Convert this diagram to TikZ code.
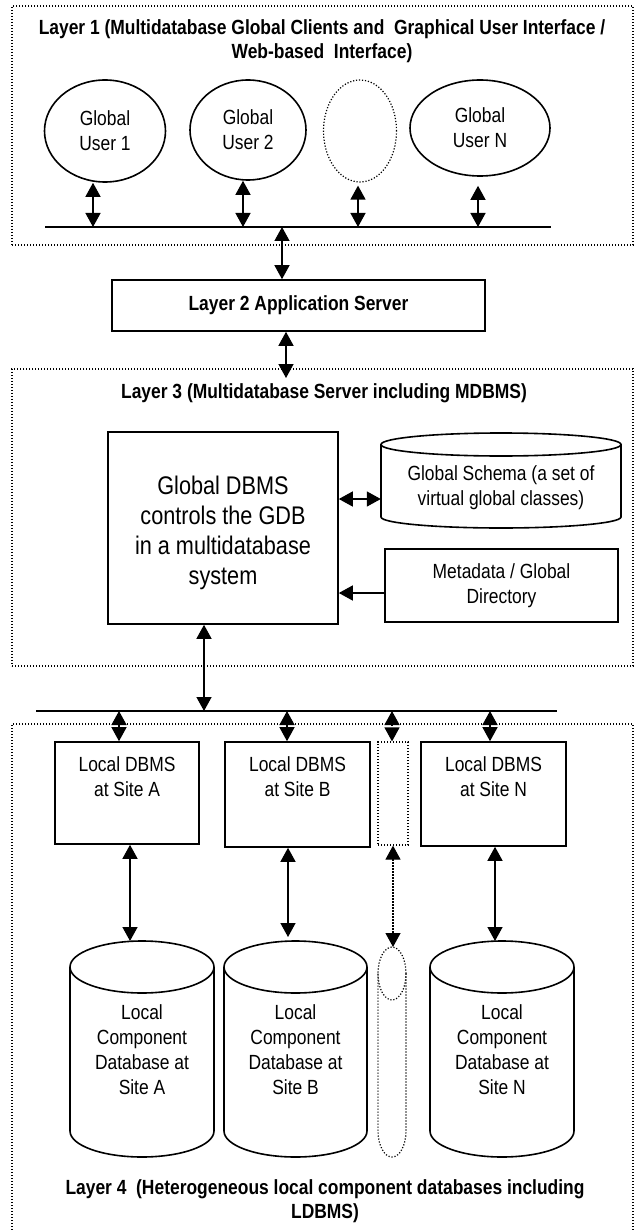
\documentclass[tikz,border=0pt]{standalone}
\usepackage{fontspec}
\setmainfont[FakeStretch=0.85]{Liberation Sans}
\usetikzlibrary{arrows.meta,shapes.geometric,calc}
\begin{document}
\begin{tikzpicture}[x=1pt,y=-1pt,
  dotline/.style={line width=1.2pt, dash pattern=on 1.2pt off 1.8pt},
  dotbox/.style={draw, dotline, inner sep=0pt},
  solidbox/.style={draw, line width=1.6pt, inner sep=0pt},
  txt/.style={font=\fontsize{20.5}{25}\selectfont, align=center, inner sep=0pt},
  bigtxt/.style={font=\fontsize{25.5}{30}\selectfont, align=center, inner sep=0pt},
  ttl/.style={font=\bfseries\fontsize{20.5}{24}\selectfont, align=center, inner sep=0pt},
  tipa/.tip={Triangle[length=14pt,width=15pt]},
  dar/.style={line width=1.4pt, tipa-tipa},
  sar/.style={line width=1.4pt, -tipa},
  busline/.style={line width=2pt},
  cyl/.style={line width=1.6pt}]
\useasboundingbox (0,0) rectangle (633,1230);
\fill[white] (0,0) rectangle (633,1230);

% ---------- Layer 1 ----------
\node[dotbox, minimum width=621pt, minimum height=239pt] (L1) at (322.5,125.5) {};
\node[ttl] (L1t) at (322,41) {Layer 1 (Multidatabase Global Clients and~ Graphical User Interface /\\Web-based~ Interface)};
\node[solidbox, ellipse, txt, minimum width=121pt, minimum height=102pt] (U1) at (105,131) {Global\\User 1};
\node[solidbox, ellipse, txt, minimum width=116pt, minimum height=100pt] (U2) at (248,130) {Global\\User 2};
\node[dotbox, ellipse, minimum width=73pt, minimum height=102pt] (U3) at (360,131) {};
\node[solidbox, ellipse, txt, minimum width=140pt, minimum height=96pt] (UN) at (480,128) {Global\\User N};

\coordinate (B1L) at (45,227);
\coordinate (B1R) at (551,227);
\draw[busline] (B1L) -- (B1R);
\coordinate (b1) at (93,227);
\coordinate (b2) at (243,227);
\coordinate (b3) at (358,227);
\coordinate (b4) at (478,227);
\draw[dar] (b1 |- U1.south) -- (b1);
\draw[dar] (b2 |- U2.south) -- (b2);
\draw[dar] ([yshift=-3pt]b3 |- U3.south) -- (b3);
\draw[dar] ([yshift=-9pt]b4 |- UN.south) -- (b4);

% ---------- Layer 2 ----------
\node[solidbox, ttl, minimum width=373pt, minimum height=51pt] (L2) at (298.5,305.5) {Layer 2 Application Server};
\coordinate (b0) at (282,227);
\draw[dar] (b0) -- (b0 |- L2.north);
\coordinate (l3a) at (286,378);
\draw[dar] (L2.south -| l3a) -- (l3a);

% ---------- Layer 3 ----------
\node[dotbox, minimum width=621pt, minimum height=297pt] (L3) at (322.5,517.5) {};
\node[ttl] (L3t) at (324,393) {Layer 3 (Multidatabase Server including MDBMS)};
\node[solidbox, minimum width=230pt, minimum height=192pt] (DBMS) at (223,528) {};
\node[bigtxt] (DBMSt) at (223,533) {Global DBMS\\controls the GDB\\in a multidatabase\\system};

% global schema cylinder
\draw[cyl] (501,444.5) ellipse[x radius=120, y radius=11.5];
\draw[cyl] (381,444.5) -- (381,517) arc[start angle=180, end angle=0, x radius=120, y radius=11] -- (621,444.5);
\node[txt, minimum width=240pt] (GS) at (501,487.5) {Global Schema (a set of\\virtual global classes)};

\node[solidbox, txt, minimum width=233pt, minimum height=73pt] (MD) at (501.5,585.5) {Metadata / Global\\Directory};

\coordinate (gy) at (0,499);
\draw[dar] (DBMS.east |- gy) -- (GS.west |- gy);
\coordinate (my) at (0,593);
\draw[sar] (MD.west |- my) -- (DBMS.east |- my);

% ---------- bus 2 ----------
\coordinate (B2L) at (36,711);
\coordinate (B2R) at (557,711);
\draw[busline] (B2L) -- (B2R);
\coordinate (bd) at (204,711);
\draw[dar] (DBMS.south -| bd) -- (bd);

% ---------- Layer 4 ----------
\node[dotbox, minimum width=621pt, minimum height=521pt] (L4) at (322.5,984.5) {};

\node[solidbox, minimum width=144pt, minimum height=102pt] (LA) at (127,793) {};
\node[solidbox, minimum width=145pt, minimum height=105pt] (LB) at (297.5,794.5) {};
\node[dotbox, minimum width=30pt, minimum height=103pt] (LD) at (393,793.5) {};
\node[solidbox, minimum width=145pt, minimum height=104pt] (LN) at (493.5,794) {};
\node[txt] (LAt) at (127,777) {Local DBMS\\at Site A};
\node[txt] (LBt) at (297.5,777) {Local DBMS\\at Site B};
\node[txt] (LNt) at (493.5,777) {Local DBMS\\at Site N};

\coordinate (ba) at (119,711);
\coordinate (bb) at (287,711);
\coordinate (bdd) at (392,711);
\coordinate (bn) at (490,711);
\draw[dar] (ba) -- (ba |- LA.north);
\draw[dar] (bb) -- (bb |- LB.north);
\draw[dar, dotline] (bdd) -- (bdd |- LD.north);
\draw[dar] (bn) -- (bn |- LN.north);

% cylinders
\foreach \cx/\rx in {142/72, 295.5/71.5, 502/72}{
  \draw[cyl] (\cx,967) ellipse[x radius=\rx, y radius=26];
  \draw[cyl] (\cx-\rx,967) -- (\cx-\rx,1131) arc[start angle=180, end angle=0, x radius=\rx, y radius=26] -- (\cx+\rx,967);
}
\draw[dotline] (392,973.5) ellipse[x radius=14, y radius=26.5];
\draw[dotline] (378,973.5) -- (378,1131) arc[start angle=180, end angle=0, x radius=14, y radius=26] -- (406,973.5);

\node[txt] (CAt) at (142,1050) {Local\\Component\\Database at\\Site A};
\node[txt] (CBt) at (295.5,1050) {Local\\Component\\Database at\\Site B};
\node[txt] (CNt) at (502,1050) {Local\\Component\\Database at\\Site N};

\coordinate (cA) at (130,941);
\coordinate (cB) at (288,937);
\coordinate (cD) at (393,947);
\coordinate (cN) at (495,941);
\draw[dar] (LA.south -| cA) -- (cA);
\draw[dar] (LB.south -| cB) -- (cB);
\draw[dar, dotline] (LD.south -| cD) -- (cD);
\draw[dar] (LN.south -| cN) -- (cN);

\node[ttl] (L4t) at (325,1201) {Layer 4~ (Heterogeneous local component databases including\\LDBMS)};
\end{tikzpicture}
\end{document}
